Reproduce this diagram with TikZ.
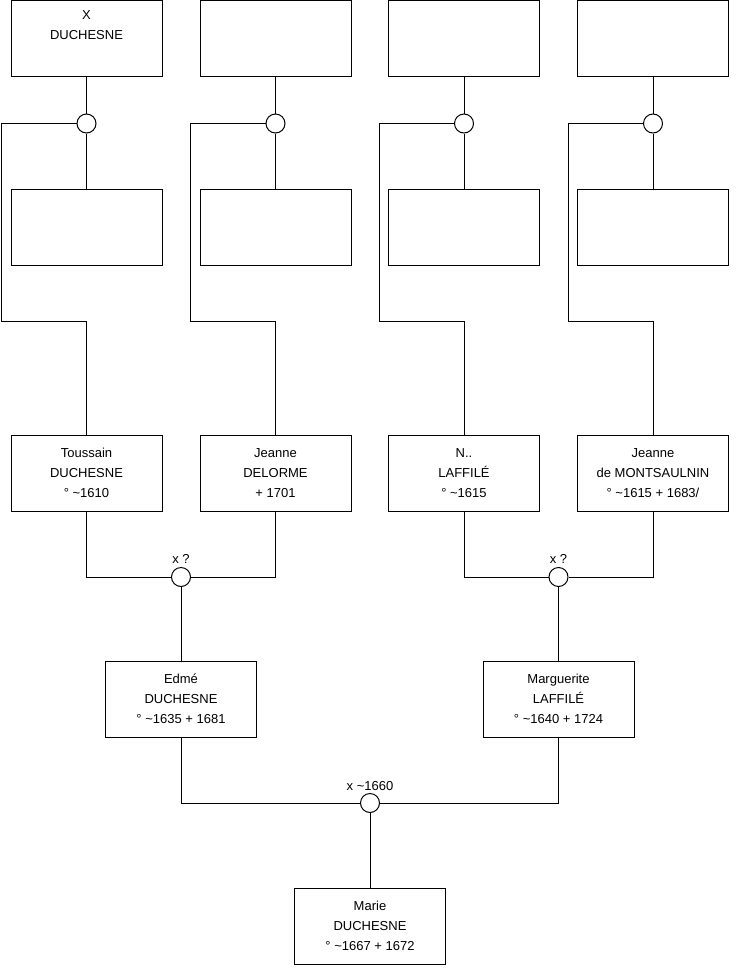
\documentclass[tikz,border=0pt]{standalone}
\usepackage{fontspec}
\setmainfont{Liberation Sans}
\begin{document}
\begin{tikzpicture}[x=1pt,y=-1pt,line width=1pt,
  person/.style={draw, minimum width=151pt, minimum height=76pt, inner sep=0pt, align=center, font=\fontsize{13}{20}\selectfont},
  union/.style={draw, circle, fill=white, minimum size=19pt, inner sep=0pt},
  lbl/.style={inner sep=0pt, font=\fontsize{13}{16}\selectfont}]
\useasboundingbox (0,0) rectangle (740,975);
% top row
\node[person] (f1) at (86.5,38) {X\\DUCHESNE\\\strut};
\node[person] (f2) at (275.5,38) {};
\node[person] (f3) at (464,38) {};
\node[person] (f4) at (653,38) {};
% unions
\node[union] (u1) at (86.5,123.5) {};
\node[union] (u2) at (275.5,123.5) {};
\node[union] (u3) at (464,123.5) {};
\node[union] (u4) at (653,123.5) {};
% second row
\node[person] (m1) at (86.5,227.5) {};
\node[person] (m2) at (275.5,227.5) {};
\node[person] (m3) at (464,227.5) {};
\node[person] (m4) at (653,227.5) {};
% third row
\node[person] (p1) at (86.5,473) {Toussain\\DUCHESNE\\° \textasciitilde1610};
\node[person] (p2) at (275.5,473) {Jeanne\\DELORME\\+ 1701};
\node[person] (p3) at (464,473) {N..\\LAFFILÉ\\° \textasciitilde1615};
\node[person] (p4) at (653,473) {Jeanne\\de MONTSAULNIN\\° \textasciitilde1615 + 1683/};
% unions row 3
\node[union] (u5) at (181,577) {};
\node[union] (u6) at (558.5,577) {};
\node[lbl] (l5) at (181,559) {x ?};
\node[lbl] (l6) at (558.5,559) {x ?};
% fourth row
\node[person] (e1) at (181,699) {Edmé\\DUCHESNE\\° \textasciitilde1635 + 1681};
\node[person] (e2) at (558.5,699) {Marguerite\\LAFFILÉ\\° \textasciitilde1640 + 1724};
% final union
\node[union] (u7) at (370,803) {};
\node[lbl] (l7) at (370,786) {x \textasciitilde1660};
\node[person] (ch) at (370,926) {Marie\\DUCHESNE\\° \textasciitilde1667 + 1672};
% coordinates for side lines
\coordinate (a1) at (1.5,123.5);  \coordinate (b1) at (1.5,321);
\coordinate (a2) at (190.5,123.5); \coordinate (b2) at (190.5,321);
\coordinate (a3) at (379.5,123.5); \coordinate (b3) at (379.5,321);
\coordinate (a4) at (568.5,123.5); \coordinate (b4) at (568.5,321);
% connectors
\draw (f1) -- (u1) -- (m1);
\draw (f2) -- (u2) -- (m2);
\draw (f3) -- (u3) -- (m3);
\draw (f4) -- (u4) -- (m4);
\draw (u1.west) -- (a1) -- (b1) -| (p1.north);
\draw (u2.west) -- (a2) -- (b2) -| (p2.north);
\draw (u3.west) -- (a3) -- (b3) -| (p3.north);
\draw (u4.west) -- (a4) -- (b4) -| (p4.north);
\draw (p1.south) |- (u5.west);
\draw (p2.south) |- (u5.east);
\draw (p3.south) |- (u6.west);
\draw (p4.south) |- (u6.east);
\draw (u5) -- (e1);
\draw (u6) -- (e2);
\draw (e1.south) |- (u7.west);
\draw (e2.south) |- (u7.east);
\draw (u7) -- (ch);
\end{tikzpicture}
\end{document}
